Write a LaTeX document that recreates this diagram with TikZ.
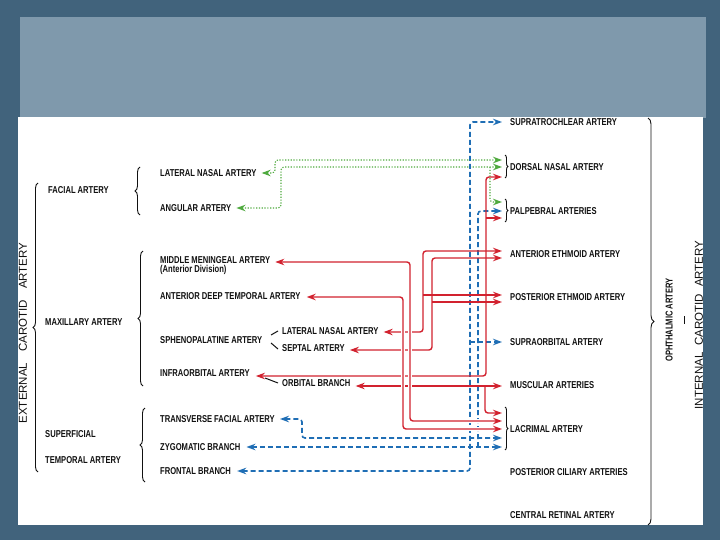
\documentclass[tikz,border=0pt]{standalone}
\usepackage{fontspec}
\setmainfont{Liberation Sans}
\newfontfamily\labfont[FakeStretch=0.76]{Liberation Sans}
\usetikzlibrary{arrows.meta,calc,decorations.pathreplacing}
\definecolor{framec}{HTML}{41637C}
\definecolor{panelc}{HTML}{7F99AC}
\definecolor{artred}{HTML}{D2222F}
\definecolor{artblue}{HTML}{1F6EB5}
\definecolor{artgreen}{HTML}{4FAA3E}
\definecolor{inkc}{HTML}{111111}

\begin{document}
\begin{tikzpicture}[x=1pt,y=-1pt,
  lab/.style={anchor=west,inner sep=0pt,text height=7pt,text depth=0pt,text=inkc,
              font=\fontsize{10}{11}\selectfont\labfont\bfseries},
  vlab/.style={rotate=90,inner sep=0pt,text=inkc,font=\fontsize{11.5}{12}\selectfont},
  brc/.style={decorate,decoration={brace,amplitude=#1},inkc,line width=0.9pt},
  redc/.style={artred,line width=1.4pt,rounded corners=3pt},
  bluec/.style={artblue,line width=1.6pt,dash pattern=on 5pt off 3pt,rounded corners=3pt},
  greenc/.style={artgreen,line width=1.1pt,dash pattern=on 1.2pt off 1.6pt,rounded corners=3pt},
  ar/.style={-{Stealth[length=9pt,width=6.5pt]}},
  bar/.style={{Stealth[length=9pt,width=6.5pt]}-{Stealth[length=9pt,width=6.5pt]}},
  casing/.style={preaction={draw=white,line width=3.6pt,solid,-}},
]
% background
\fill[framec] (0,0) rectangle (720,540);
\fill[panelc] (20,17) rectangle (706,118);
\fill[white] (18,117) rectangle (703,525);

% external carotid side
\node[vlab] (eca) at (23,333) {EXTERNAL\hspace{11pt}CAROTID\hspace{11pt}ARTERY};
\draw[brc=5pt] (38,472) -- (38,183);

\node[lab] (fac) at (48,190) {FACIAL ARTERY};
\node[lab] (max) at (45,322) {MAXILLARY ARTERY};
\node[lab] (sup) at (45,434) {SUPERFICIAL};
\node[lab] (tem) at (45,460) {TEMPORAL ARTERY};
\draw[brc=5pt] (140,215) -- (140,167);
\draw[brc=5pt] (143,386) -- (143,251);
\draw[brc=5pt] (145,482) -- (145,408);

\node[lab] (lna) at (160,173) {LATERAL NASAL ARTERY};
\node[lab] (ang) at (160,208) {ANGULAR ARTERY};
\node[lab] (mma) at (160,260) {MIDDLE MENINGEAL ARTERY};
\node[lab] (mmd) at (160,269) {(Anterior Division)};
\node[lab] (adt) at (160,296) {ANTERIOR DEEP TEMPORAL ARTERY};
\node[lab] (sph) at (160,340) {SPHENOPALATINE ARTERY};
\node[lab] (ln2) at (282,331) {LATERAL NASAL ARTERY};
\node[lab] (sep) at (282,348) {SEPTAL ARTERY};
\node[lab] (ifo) at (160,373) {INFRAORBITAL ARTERY};
\node[lab] (orb) at (282,383) {ORBITAL BRANCH};
\node[lab] (tfa) at (160,419) {TRANSVERSE FACIAL ARTERY};
\node[lab] (zyg) at (160,447) {ZYGOMATIC BRANCH};
\node[lab] (fro) at (160,471) {FRONTAL BRANCH};

\draw[inkc,line width=1pt] ($(ln2.west)+(-11,4)$) -- ($(ln2.west)+(-4,0)$);
\draw[inkc,line width=1pt] ($(sep.west)+(-11,-5)$) -- ($(sep.west)+(-4,1)$);
\draw[inkc,line width=1pt] ($(orb.west)+(-17,-5)$) -- ($(orb.west)+(-4,0)$);

% ophthalmic side
\node[lab] (sta) at (510,122) {SUPRATROCHLEAR ARTERY};
\node[lab] (dna) at (510,167) {DORSAL NASAL ARTERY};
\node[lab] (pal) at (510,211) {PALPEBRAL ARTERIES};
\node[lab] (aea) at (510,254) {ANTERIOR ETHMOID ARTERY};
\node[lab] (pea) at (510,297) {POSTERIOR ETHMOID ARTERY};
\node[lab] (soa) at (510,342) {SUPRAORBITAL ARTERY};
\node[lab] (mua) at (510,385) {MUSCULAR ARTERIES};
\node[lab] (lac) at (510,429) {LACRIMAL ARTERY};
\node[lab] (pca) at (510,472) {POSTERIOR CILIARY ARTERIES};
\node[lab] (cra) at (510,515) {CENTRAL RETINAL ARTERY};
\draw[brc=3pt] (505,155) -- (505,178);
\draw[brc=3pt] (505,199) -- (505,222);
\draw[brc=3pt] (505,407) -- (505,450);
\draw[brc=6pt] (648,118) -- (648,525);

\node[lab,rotate=90,anchor=center] (oph) at (669,320) {OPHTHALMIC ARTERY};
\draw[inkc,line width=1pt] (684,316) -- (684,324);
\node[vlab] (ica) at (699,325) {INTERNAL\hspace{7pt}CAROTID\hspace{7pt}ARTERY};

% facial branches
\draw[greenc,bar] ($(lna.east)+(5,0)$) -| (275,160) -- ($(dna.west)+(-8,-7)$);
\draw[greenc,bar] ($(ang.east)+(5,0)$) -| (281,167) -- ($(dna.west)+(-8,0)$);
\coordinate (gpb) at (490,167);
\draw[greenc,ar] (gpb) |- ($(pal.west)+(-8,-9)$);

% superficial temporal branches
\draw[bluec,bar] ($(fro.east)+(6,0)$) -| (470,122) -- ($(sta.west)+(-8,0)$);
\coordinate (bso) at (470,342);
\draw[bluec,ar] (bso) -- ($(soa.west)+(-8,0)$);
\draw[bluec,bar] ($(zyg.east)+(6,0)$) -- ($(lac.west)+(-8,18)$);
\coordinate (bzy) at (478,447);
\draw[bluec,ar] (bzy) |- ($(pal.west)+(-8,0)$);
\draw[bluec,bar] ($(tfa.east)+(5,0)$) -| (302,438) -- ($(lac.west)+(-8,9)$);

% maxillary branches
\draw[redc,bar] ($(ln2.east)+(5,1)$) -| (423,251) -- ($(aea.west)+(-8,-3)$);
\coordinate (rln) at (423,295);
\draw[redc,ar] (rln) -- ($(pea.west)+(-8,-2)$);
\draw[redc,bar] ($(sep.east)+(5,2)$) -| (432,258) -- ($(aea.west)+(-8,4)$);
\coordinate (rse) at (432,302);
\draw[redc,ar] (rse) -- ($(pea.west)+(-8,5)$);
\draw[redc,bar] ($(ifo.east)+(6,3)$) -| (486,177) -- ($(dna.west)+(-8,10)$);
\coordinate (rif) at (486,218);
\draw[redc,ar] (rif) -- ($(pal.west)+(-8,7)$);
\draw[redc,bar] ($(orb.east)+(5,3)$) -- ($(mua.west)+(-8,1)$);
\coordinate (ror) at (485,386);
\draw[redc,ar] (ror) |- ($(lac.west)+(-8,-16)$);
\draw[redc,bar,casing] ($(mma.east)+(5,2)$) -| (410,421) -- ($(lac.west)+(-8,-8)$);
\draw[redc,bar,casing] ($(adt.east)+(6,1)$) -| (403,429) -- ($(lac.west)+(-8,0)$);
\end{tikzpicture}
\end{document}
